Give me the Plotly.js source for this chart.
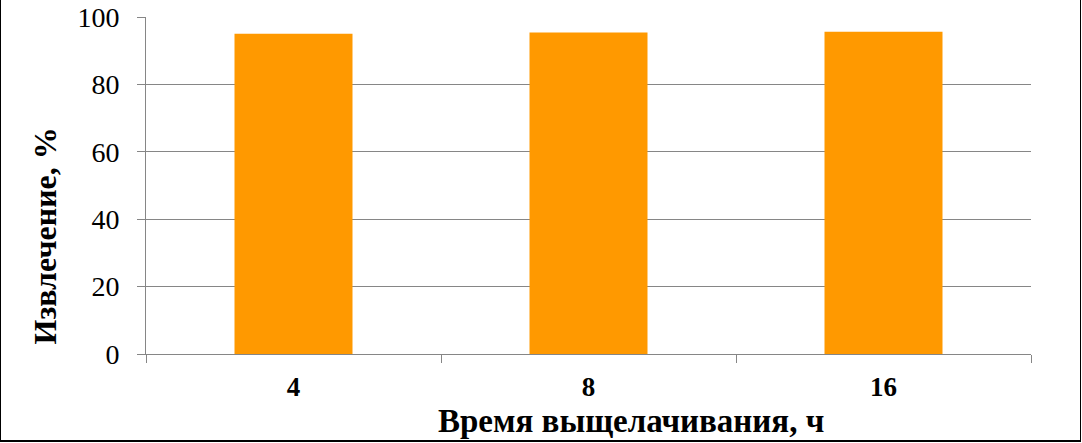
<!DOCTYPE html>
<html>
<head>
<meta charset="utf-8">
<script src="https://cdn.plot.ly/plotly-3.0.1.min.js"></script>
<style>
  html, body { margin: 0; padding: 0; background: #fff; }
  #frame { position: absolute; left: 0; top: 0; width: 1079px; height: 440px; border: 1.5px solid #000; border-bottom-width: 2px; border-top: none; box-sizing: content-box; }
  #chart { position: absolute; left: 0; top: 0; width: 1082px; height: 443px; }
</style>
</head>
<body>
<div id="chart"></div>
<div id="frame"></div>
<script>
const categories = ["4", "8", "16"];
const extraction = [95.0, 95.4, 95.6];
const yTickVals = [0, 20, 40, 60, 80, 100];
const xTitle = "Время выщелачивания, ч";
const yTitle = "Извлечение, %";

const SERIF = "Times New Roman, Liberation Serif, DejaVu Serif, serif";

const trace = {
  type: "bar",
  x: categories,
  y: extraction,
  marker: { color: "#FF9900" },
  width: 0.4,
  hoverinfo: "x+y"
};

const layout = {
  width: 1082,
  height: 443,
  margin: { l: 146, r: 51, t: 17, b: 89 },
  paper_bgcolor: "#ffffff",
  plot_bgcolor: "#ffffff",
  showlegend: false,
  font: { family: SERIF, color: "#000" },
  xaxis: {
    type: "category",
    tickson: "boundaries",
    ticks: "outside",
    ticklen: 8,
    tickcolor: "#868686",
    showline: true,
    linecolor: "#868686",
    linewidth: 1,
    showgrid: false,
    ticklabelstandoff: 9,
    tickfont: { size: 27, family: SERIF, weight: "bold", color: "#000" }
  },
  yaxis: {
    range: [0, 100],
    tickvals: yTickVals,
    ticks: "outside",
    ticklen: 8,
    tickcolor: "#868686",
    showline: true,
    linecolor: "#868686",
    linewidth: 1,
    showgrid: true,
    gridcolor: "#868686",
    gridwidth: 1,
    zeroline: false,
    ticklabelstandoff: 12,
    tickfont: { size: 28, family: SERIF, color: "#000" }
  },
  annotations: [
    {
      text: "<b>" + xTitle + "</b>",
      xref: "paper", yref: "paper",
      x: 0.548, y: -0.1988,
      xanchor: "center", yanchor: "middle",
      showarrow: false,
      font: { size: 33, family: SERIF, color: "#000" }
    },
    {
      text: "<b>" + yTitle + "</b>",
      xref: "paper", yref: "paper",
      x: -0.1141, y: 0.3487,
      xanchor: "center", yanchor: "middle",
      textangle: -90,
      showarrow: false,
      font: { size: 32, family: SERIF, color: "#000" }
    }
  ]
};

Plotly.newPlot("chart", [trace], layout, { displayModeBar: false, staticPlot: true });
</script>
</body>
</html>
